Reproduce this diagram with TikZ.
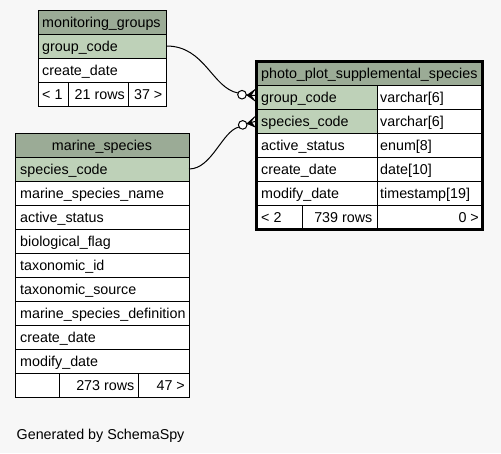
\documentclass[tikz,border=0pt]{standalone}
\usepackage{fontspec}
\setmainfont{Liberation Sans}
\definecolor{bgc}{HTML}{F7F7F7}
\definecolor{hdrc}{HTML}{9BAB96}
\definecolor{keyc}{HTML}{BED1B8}
\tikzset{
  cell/.style={draw=black, line width=1pt},
  lbl/.style={anchor=base west, inner sep=0pt, font=\fontsize{14.3}{17}\selectfont},
  rlbl/.style={anchor=base east, inner sep=0pt, font=\fontsize{14.3}{17}\selectfont},
  clbl/.style={anchor=base, inner sep=0pt, font=\fontsize{14.3}{17}\selectfont},
  conn/.style={draw=black, line width=1pt},
  odot/.style={draw=black, fill=white, line width=1pt},
  crow/.style={fill=black, draw=black, line width=0.6pt, line join=miter}
}
\begin{document}
\begin{tikzpicture}[x=1pt,y=-1pt]
\useasboundingbox (0,0) rectangle (501,453);
\fill[bgc] (0,0) rectangle (501,453);

% ---------- monitoring_groups ----------
\fill[hdrc] (38.5,10.5) rectangle (166.5,34);
\fill[keyc] (38.5,34) rectangle (166.5,58);
\fill[white] (38.5,58) rectangle (166.5,106);
\draw[cell] (38.5,10.5) rectangle (166.5,106);
\draw[cell] (38.5,34) -- (166.5,34);
\draw[cell] (38.5,58) -- (166.5,58);
\draw[cell] (38.5,82) -- (166.5,82);
\draw[cell] (68,82) -- (68,106);
\draw[cell] (128,82) -- (128,106);
\node[lbl] (mgh) at (42,27) {monitoring\_groups};
\node[lbl] (mggc) at (42,51) {group\_code};
\node[lbl] (mgcd) at (42,75) {create\_date};
\node[lbl] (mgf1) at (42,99) {< 1};
\node[rlbl] (mgf2) at (125,99) {21 rows};
\node[rlbl] (mgf3) at (162.5,99) {37 >};
\coordinate (mgport) at (166.5,46);

% ---------- marine_species ----------
\fill[hdrc] (15.5,133) rectangle (189,157);
\fill[keyc] (15.5,157) rectangle (189,181);
\fill[white] (15.5,181) rectangle (189,397);
\draw[cell] (15.5,133) rectangle (189,397);
\foreach \yy in {157,181,205,229,253,277,301,325,349,373}
  \draw[cell] (15.5,\yy) -- (189,\yy);
\draw[cell] (59,373) -- (59,397);
\draw[cell] (138,373) -- (138,397);
\node[clbl] (msh) at (102,150) {marine\_species};
\node[lbl] (ms1) at (20,174) {species\_code};
\node[lbl] (ms2) at (20,198) {marine\_species\_name};
\node[lbl] (ms3) at (20,222) {active\_status};
\node[lbl] (ms4) at (20,246) {biological\_flag};
\node[lbl] (ms5) at (20,270) {taxonomic\_id};
\node[lbl] (ms6) at (20,294) {taxonomic\_source};
\node[lbl] (ms7) at (20,318) {marine\_species\_definition};
\node[lbl] (ms8) at (20,342) {create\_date};
\node[lbl] (ms9) at (20,366) {modify\_date};
\node[rlbl] (msf2) at (134.5,390) {273 rows};
\node[rlbl] (msf3) at (185,390) {47 >};
\coordinate (msport) at (189,169);

% ---------- photo_plot_supplemental_species ----------
\fill[hdrc] (256.5,61.5) rectangle (482.5,85);
\fill[keyc] (256.5,85) rectangle (377,133);
\fill[white] (377,85) rectangle (482.5,133);
\fill[white] (256.5,133) rectangle (482.5,229.5);
\foreach \yy in {85,109,133,157,181,205}
  \draw[cell] (256.5,\yy) -- (482.5,\yy);
\draw[cell] (377,85) -- (377,229.5);
\draw[cell] (302,205) -- (302,229.5);
\draw[black, line width=3pt] (256.5,61.5) rectangle (482.5,229.5);
\node[lbl] (pph) at (261,78) {photo\_plot\_supplemental\_species};
\node[lbl] (pp1) at (261,102) {group\_code};
\node[lbl] (pp1t) at (380,102) {varchar[6]};
\node[lbl] (pp2) at (261,126) {species\_code};
\node[lbl] (pp2t) at (380,126) {varchar[6]};
\node[lbl] (pp3) at (261,150) {active\_status};
\node[lbl] (pp3t) at (380,150) {enum[8]};
\node[lbl] (pp4) at (261,174) {create\_date};
\node[lbl] (pp4t) at (380,174) {date[10]};
\node[lbl] (pp5) at (261,198) {modify\_date};
\node[lbl] (pp5t) at (380,198) {timestamp[19]};
\node[lbl] (ppf1) at (261,222) {< 2};
\node[rlbl] (ppf2) at (372.5,222) {739 rows};
\node[rlbl] (ppf3) at (479,222) {0 >};

% ---------- connectors ----------
\coordinate (c1) at (242,94.7);
\coordinate (c2) at (242.7,124.9);
\coordinate (t1) at (247,95.2);
\coordinate (t2) at (247,123.6);
\coordinate (e1) at (255,95.5);
\coordinate (e2) at (255,121.5);

\draw[conn] (mgport) .. controls (205,46) and (212,88) .. (238,93);
\draw[conn] (msport) .. controls (212,169) and (222,131) .. (239,127);

\fill[crow] (t1) -- (255,89.5) -- (251,95.3) -- (255,101) -- cycle;
\draw[conn] (t1) -- (e1);
\fill[crow] (t2) -- (255,116.5) -- (251,121.8) -- (255,127) -- cycle;
\draw[conn] (t2) -- (e2);
\draw[conn] (c1) -- (t1);
\draw[conn] (c2) -- (t2);
\draw[odot] (c1) circle (4.3);
\draw[odot] (c2) circle (4.3);

\node[lbl] (gen) at (16.5,439) {Generated by SchemaSpy};
\end{tikzpicture}
\end{document}
